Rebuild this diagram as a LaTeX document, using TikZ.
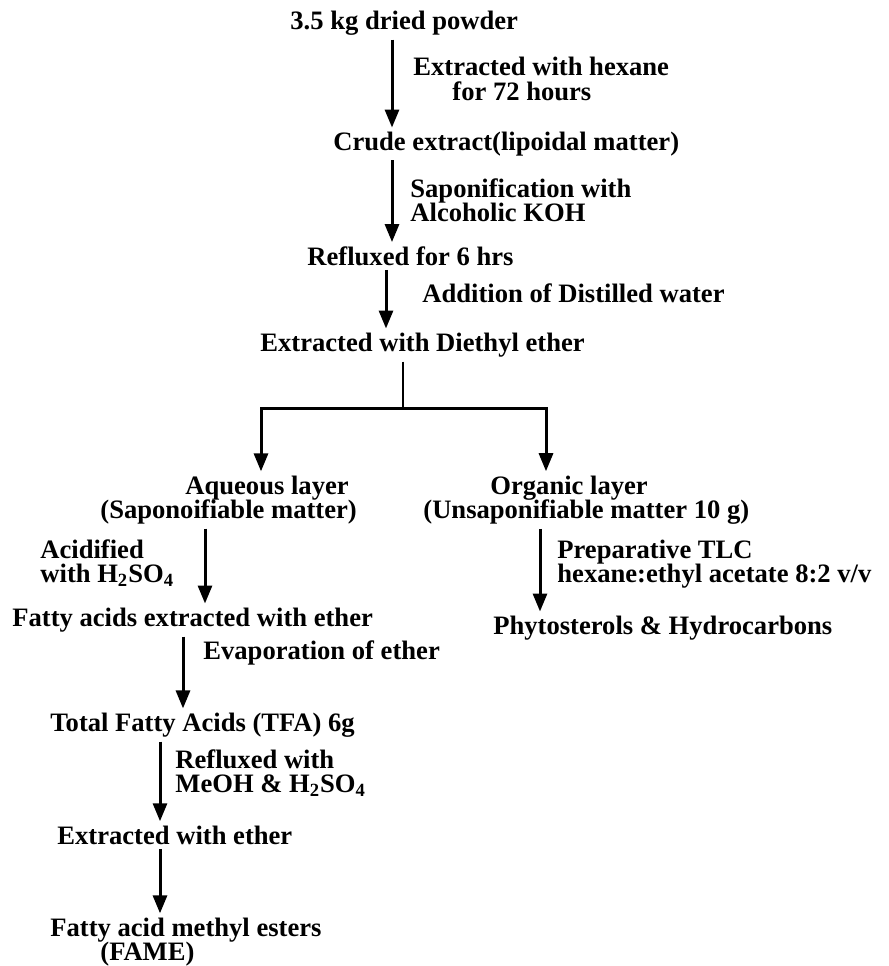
\documentclass[tikz,border=0pt]{standalone}
\usepackage{fontspec}
\setmainfont{Liberation Serif}
\usepackage{tikz}
\usetikzlibrary{arrows.meta,positioning,calc}

\begin{document}
\begin{tikzpicture}[
    x=0.5pt, y=-0.5pt,
    >={Triangle[width=7pt,length=9pt]},
    txt/.style={anchor=west, inner xsep=0pt, inner ysep=2pt, align=left,
      font={\fontsize{13.3}{12.2}\selectfont\bfseries\lineskiplimit=-20pt\relax}},
    flow/.style={->, line width=1.5pt},
    branch/.style={line width=1.2pt}
  ]
  \useasboundingbox (0,0) rectangle (889,966);
  % Main column
  \node[txt] (powder) at (290,23) {3.5 kg dried powder};
  \node[txt] (hexane) at (413,79) {Extracted with hexane\\\hspace*{19.5pt}for 72 hours};
  \node[txt] (crude) at (333,144) {Crude extract(lipoidal matter)};
  \node[txt] (sapon) at (410,200) {Saponification with\\Alcoholic KOH};
  \node[txt] (reflux) at (307,256) {Refluxed for 6 hrs};
  \node[txt] (water) at (422,293) {Addition of Distilled water};
  \node[txt] (diethyl) at (260,345) {Extracted with Diethyl ether};
  \draw[flow] (powder.south -| 392,0) -- (crude.north -| 392,0);
  \draw[flow] (crude.south -| 392,0) -- (reflux.north -| 392,0);
  \draw[flow] (reflux.south -| 386,0) -- (diethyl.north -| 386,0);
  % Split into two layers
  \coordinate (split) at (403,408);
  \node[txt] (aqueous) at (100,500) {\hspace*{42.5pt}Aqueous layer\\(Saponoifiable matter)};
  \node[txt] (organic) at (423,500) {\hspace*{33.5pt}Organic layer\\(Unsaponifiable matter 10 g)};
  \draw[branch] (diethyl.south -| split) -- (split);
  \draw[flow] (split) -| (aqueous.north -| 261,0);
  \draw[flow] (split) -| (organic.north -| 546,0);
  % Saponifiable branch
  \node[txt] (acid) at (40,563) {Acidified\\with H\textsubscript{2}SO\textsubscript{4}};
  \node[txt] (fatty) at (12,620) {Fatty acids extracted with ether};
  \node[txt] (evap) at (203,653) {Evaporation of ether};
  \node[txt] (tfa) at (50,725) {Total Fatty Acids (TFA) 6g};
  \node[txt] (meoh) at (175,773) {Refluxed with\\MeOH \& H\textsubscript{2}SO\textsubscript{4}};
  \node[txt] (ether) at (57,835) {Extracted with ether};
  \node[txt] (fame) at (50,942) {Fatty acid methyl esters\\\hspace*{25pt}(FAME)};
  \draw[flow] (aqueous.south -| 205,0) -- (fatty.north -| 205,0);
  \draw[flow] (fatty.south -| 183,0) -- (tfa.north -| 183,0);
  \draw[flow] (tfa.south -| 160,0) -- (ether.north -| 160,0);
  \draw[flow] (ether.south -| 160,0) -- (fame.north -| 160,0);
  % Unsaponifiable branch
  \node[txt] (tlc) at (557,564) {Preparative TLC\\hexane:ethyl acetate 8:2 v/v};
  \node[txt] (phyto) at (493,628) {Phytosterols \& Hydrocarbons};
  \draw[flow] (organic.south -| 540,0) -- (phyto.north -| 540,0);
\end{tikzpicture}
\end{document}
